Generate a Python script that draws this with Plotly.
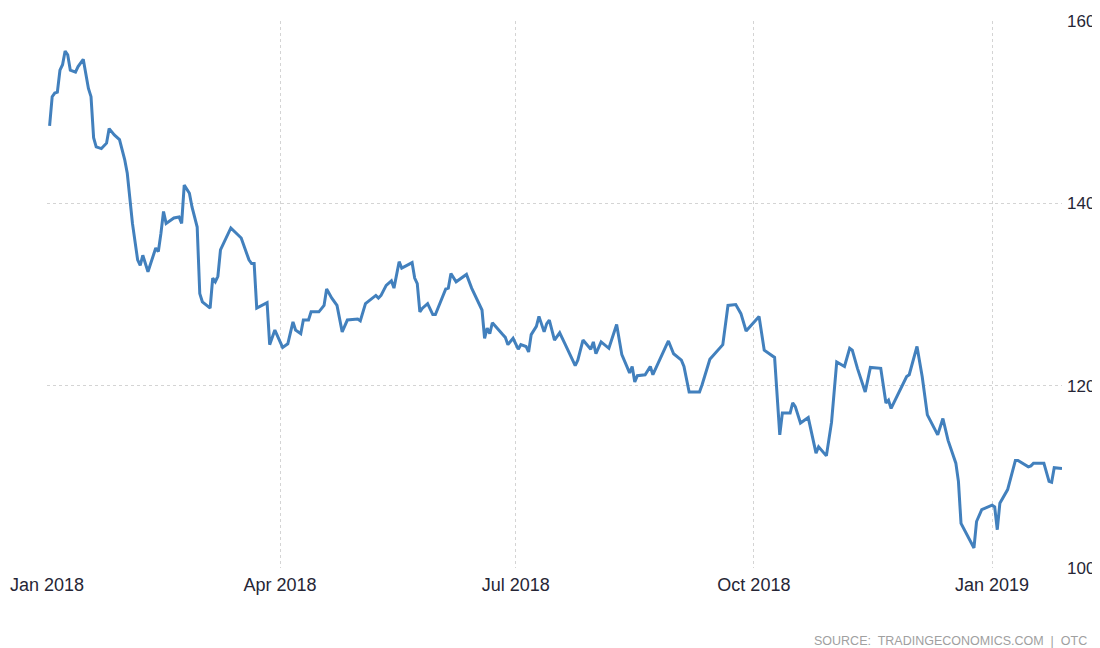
import plotly.graph_objects as go

dates = [
    "2018-01-02", "2018-01-03", "2018-01-04", "2018-01-05", "2018-01-06", "2018-01-07", "2018-01-08",
    "2018-01-09", "2018-01-10", "2018-01-12", "2018-01-13", "2018-01-15", "2018-01-17", "2018-01-18",
    "2018-01-19", "2018-01-20", "2018-01-22", "2018-01-24", "2018-01-25", "2018-01-27", "2018-01-29",
    "2018-01-31", "2018-02-01", "2018-02-02", "2018-02-03", "2018-02-05", "2018-02-06", "2018-02-07",
    "2018-02-09", "2018-02-12", "2018-02-13", "2018-02-14", "2018-02-15", "2018-02-16", "2018-02-19",
    "2018-02-21", "2018-02-22", "2018-02-23", "2018-02-25", "2018-02-26", "2018-02-28", "2018-03-01",
    "2018-03-02", "2018-03-05", "2018-03-06", "2018-03-07", "2018-03-08", "2018-03-09", "2018-03-13",
    "2018-03-17", "2018-03-20", "2018-03-21", "2018-03-22", "2018-03-23", "2018-03-27", "2018-03-28",
    "2018-03-30", "2018-04-02", "2018-04-04", "2018-04-06", "2018-04-07", "2018-04-09", "2018-04-10",
    "2018-04-12", "2018-04-13", "2018-04-16", "2018-04-18", "2018-04-19", "2018-04-21", "2018-04-23",
    "2018-04-25", "2018-04-27", "2018-05-01", "2018-05-02", "2018-05-04", "2018-05-08", "2018-05-09",
    "2018-05-10", "2018-05-12", "2018-05-14", "2018-05-15", "2018-05-17", "2018-05-18", "2018-05-20",
    "2018-05-22", "2018-05-23", "2018-05-24", "2018-05-25", "2018-05-26", "2018-05-28", "2018-05-30",
    "2018-05-31", "2018-06-02", "2018-06-04", "2018-06-05", "2018-06-06", "2018-06-08", "2018-06-12",
    "2018-06-14", "2018-06-18", "2018-06-19", "2018-06-20", "2018-06-21", "2018-06-22", "2018-06-26",
    "2018-06-27", "2018-06-28", "2018-06-30", "2018-07-02", "2018-07-03", "2018-07-05", "2018-07-06",
    "2018-07-07", "2018-07-09", "2018-07-10", "2018-07-12", "2018-07-13", "2018-07-14", "2018-07-16",
    "2018-07-18", "2018-07-20", "2018-07-24", "2018-07-25", "2018-07-27", "2018-07-30", "2018-07-31",
    "2018-08-01", "2018-08-03", "2018-08-06", "2018-08-09", "2018-08-11", "2018-08-14", "2018-08-15",
    "2018-08-16", "2018-08-17", "2018-08-20", "2018-08-22", "2018-08-23", "2018-08-28", "2018-08-29",
    "2018-08-31", "2018-09-03", "2018-09-04", "2018-09-06", "2018-09-10", "2018-09-11", "2018-09-14",
    "2018-09-17", "2018-09-19", "2018-09-21", "2018-09-24", "2018-09-26", "2018-09-28", "2018-10-03",
    "2018-10-05", "2018-10-09", "2018-10-11", "2018-10-12", "2018-10-15", "2018-10-16", "2018-10-17",
    "2018-10-19", "2018-10-22", "2018-10-25", "2018-10-26", "2018-10-29", "2018-10-31", "2018-11-02",
    "2018-11-05", "2018-11-07", "2018-11-08", "2018-11-10", "2018-11-13", "2018-11-15", "2018-11-19",
    "2018-11-21", "2018-11-22", "2018-11-23", "2018-11-29", "2018-11-30", "2018-12-03", "2018-12-05",
    "2018-12-07", "2018-12-11", "2018-12-13", "2018-12-15", "2018-12-18", "2018-12-19", "2018-12-20",
    "2018-12-25", "2018-12-26", "2018-12-28", "2019-01-01", "2019-01-02", "2019-01-03", "2019-01-04",
    "2019-01-07", "2019-01-10", "2019-01-11", "2019-01-15", "2019-01-16", "2019-01-17", "2019-01-21",
    "2019-01-23", "2019-01-24", "2019-01-25", "2019-01-28",
]

values = [
    148.5, 151.7, 152.1, 152.2, 154.6, 155.2, 156.7,
    156.3, 154.6, 154.4, 155.0, 155.8, 152.6, 151.7,
    147.2, 146.2, 146.0, 146.6, 148.2, 147.5, 147.0,
    144.8, 143.3, 140.4, 137.8, 133.8, 133.2, 134.3,
    132.5, 135.1, 134.7, 136.7, 139.1, 137.8, 138.4,
    138.5, 137.8, 142.0, 141.1, 139.6, 137.4, 130.1,
    129.2, 128.5, 131.8, 131.4, 132.0, 134.9, 137.3,
    136.2, 133.8, 133.4, 133.4, 128.5, 129.1, 124.5,
    126.1, 124.2, 124.6, 127.0, 126.1, 125.7, 127.2,
    127.2, 128.1, 128.1, 128.8, 130.6, 129.6, 128.8,
    125.9, 127.2, 127.3, 127.1, 129.0, 129.9, 129.6,
    129.9, 131.0, 131.5, 130.7, 133.6, 132.9, 133.2,
    133.5, 131.8, 131.2, 128.1, 128.5, 129.0, 127.8,
    127.8, 129.2, 130.6, 130.7, 132.3, 131.4, 132.2,
    130.7, 128.3, 125.2, 126.3, 125.7, 126.9, 125.6,
    125.3, 124.5, 125.2, 124.0, 124.5, 124.3, 123.7,
    125.6, 126.5, 127.6, 125.9, 126.8, 127.2, 125.0,
    125.8, 124.6, 122.2, 122.8, 125.0, 124.0, 124.8,
    123.5, 124.8, 124.1, 126.7, 123.4, 121.4, 122.1,
    120.4, 121.1, 121.2, 122.1, 121.2, 124.3, 124.9,
    123.5, 122.8, 122.1, 119.3, 119.3, 120.1, 122.9,
    123.8, 124.5, 128.8, 128.9, 127.9, 126.0, 127.6,
    123.9, 123.1, 114.6, 117.0, 117.0, 118.1, 117.7,
    115.9, 116.5, 112.6, 113.3, 112.3, 116.0, 122.6,
    122.1, 124.1, 123.9, 121.9, 119.3, 122.0, 121.9,
    118.1, 118.4, 117.5, 121.0, 121.2, 124.3, 121.0,
    116.8, 114.6, 116.4, 114.0, 111.5, 109.5, 104.9,
    102.2, 105.1, 106.4, 106.9, 106.7, 104.2, 107.1,
    108.6, 111.8, 111.8, 111.1, 111.2, 111.5, 111.5,
    109.5, 109.4, 111.0, 110.9,
]

y_ticks = [100, 120, 140, 160]
source_text = "SOURCE:  TRADINGECONOMICS.COM  |  OTC"

fig = go.Figure()
fig.add_trace(go.Scatter(
    x=dates, y=values, mode="lines",
    line=dict(color="#4280bd", width=3),
    hoverinfo="skip", showlegend=False,
))

# page body adds an 8px offset, so the figure is sized to sit inside the 1100x648 window
fig.update_layout(
    width=1092, height=640,
    margin=dict(l=39, r=38, t=13, b=80, autoexpand=False),
    paper_bgcolor="white", plot_bgcolor="white",
    font=dict(family="Liberation Sans, Arial, sans-serif", size=17, color="#262636"),
    xaxis=dict(
        type="date",
        range=["2018-01-01", "2019-01-28"],
        tick0="2018-01-01", dtick="M3", tickformat="%b %Y",
        tickfont=dict(size=18),
        showgrid=True, gridcolor="#d4d4d4", griddash="dot", gridwidth=1,
        showline=False, zeroline=False, ticks="", ticklabelstandoff=4,
        automargin=False, fixedrange=True,
    ),
    yaxis=dict(
        side="right", range=[100, 160],
        tickvals=y_ticks, ticktext=[str(v) for v in y_ticks],
        showgrid=True, gridcolor="#d4d4d4", griddash="dot", gridwidth=1,
        showline=False, zeroline=False, ticks="", ticklabelstandoff=4,
        automargin=False, fixedrange=True,
    ),
    annotations=[dict(
        text=source_text, xref="paper", yref="paper", x=1.027, y=-0.1335,
        xanchor="right", yanchor="middle", showarrow=False,
        font=dict(size=12.5, color="#a0a0a0"),
    )],
)

fig.write_html("out.html")
